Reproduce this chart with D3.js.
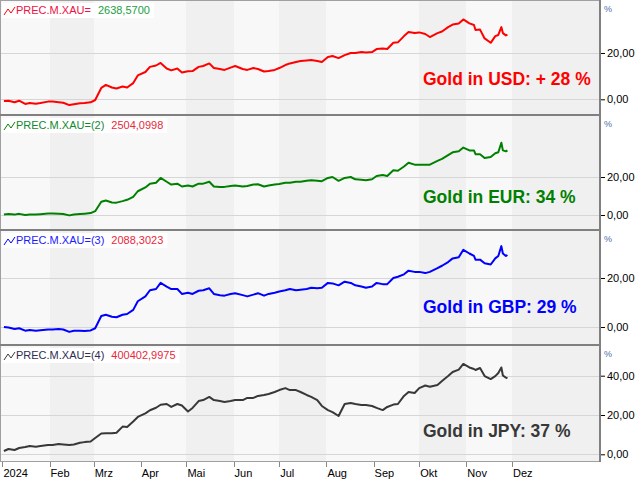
<!DOCTYPE html>
<html><head><meta charset="utf-8">
<script src="https://cdn.jsdelivr.net/npm/d3@7"></script>
<style>body{margin:0;background:#fff}svg{display:block}text{font-family:"Liberation Sans",Arial,sans-serif}</style>
</head><body><svg id="c" width="640" height="480"></svg>
<script>
const dates = ["2024-01-02","2024-01-05","2024-01-09","2024-01-12","2024-01-16","2024-01-19","2024-01-23","2024-01-26","2024-01-31",
"2024-02-03","2024-02-07","2024-02-10","2024-02-14","2024-02-17","2024-02-21","2024-02-24","2024-02-28",
"2024-03-02","2024-03-06","2024-03-09","2024-03-13","2024-03-16","2024-03-20","2024-03-23","2024-03-27","2024-03-30",
"2024-04-04","2024-04-07","2024-04-11","2024-04-14","2024-04-18","2024-04-21","2024-04-25","2024-04-28","2024-05-02",
"2024-05-05","2024-05-09","2024-05-12","2024-05-16","2024-05-19","2024-05-23","2024-05-26","2024-05-30","2024-06-02",
"2024-06-07","2024-06-10","2024-06-14","2024-06-17","2024-06-21","2024-06-24","2024-06-28","2024-07-01",
"2024-07-05","2024-07-08","2024-07-12","2024-07-15","2024-07-19","2024-07-22","2024-07-26","2024-07-29","2024-08-02",
"2024-08-05","2024-08-09","2024-08-13","2024-08-17","2024-08-20","2024-08-24","2024-08-27","2024-08-31","2024-09-03",
"2024-09-07","2024-09-10","2024-09-14","2024-09-17","2024-09-21","2024-09-24","2024-09-28","2024-10-01",
"2024-10-05","2024-10-08","2024-10-13","2024-10-16","2024-10-20","2024-10-23","2024-10-27","2024-10-30","2024-11-03",
"2024-11-06","2024-11-07","2024-11-10","2024-11-13","2024-11-17","2024-11-20","2024-11-22","2024-11-24","2024-11-25","2024-11-27","2024-11-28"];

const usd = [-0.7,-0.6,-1.3,-0.6,-2.0,-1.6,-1.9,-1.6,-1.0,
-1.0,-1.3,-1.5,-2.5,-2.1,-1.7,-1.6,-1.3,
-0.3,4.9,6.2,5.1,4.7,5.5,5.1,7.0,10.3,
11.8,14.0,14.6,15.7,13.3,12.5,13.3,11.6,12.1,
12.2,14.0,14.4,15.5,13.5,13.1,12.7,13.7,14.4,
13.1,12.7,13.5,13.1,12.0,12.2,12.7,13.5,
14.8,15.5,16.1,16.5,16.8,17.0,16.5,16.1,18.3,
18.7,17.8,19.1,20.0,20.0,20.4,20.2,20.4,21.7,
21.9,21.7,24.4,24.6,27.3,29.1,28.6,28.9,
28.2,26.9,28.6,29.3,31.2,32.3,32.7,34.5,32.8,
32.1,29.9,30.1,26.3,24.4,27.3,27.8,31.2,28.6,27.6,27.9];

const eur = [0.3,0.5,0.2,0.6,0.0,0.3,0.2,0.4,0.8,
0.8,0.6,0.5,-0.2,0.3,0.5,0.7,1.0,
2.0,7.0,7.6,6.6,6.5,7.3,8.0,9.5,12.5,
14.5,16.5,17.0,19.5,17.5,16.0,16.5,15.0,15.5,
15.0,16.5,16.5,17.5,15.0,14.8,14.8,15.3,15.5,
15.0,15.3,16.0,16.2,15.0,15.5,16.0,16.3,
17.0,17.0,17.5,17.5,18.0,18.3,18.0,17.8,19.5,
20.0,18.0,19.5,20.0,18.8,18.5,18.3,18.8,20.5,
21.0,20.5,23.5,23.3,25.5,27.5,26.5,26.5,
26.5,26.5,28.5,29.5,31.5,33.0,33.5,35.5,34.0,
34.0,32.0,32.0,30.0,30.5,32.5,33.0,38.0,34.0,33.5,34.0];

const gbp = [0.0,-0.2,-0.8,-0.5,-1.5,-1.2,-1.5,-1.3,-1.0,
-1.0,-0.8,-1.0,-2.0,-1.5,-1.5,-1.6,-1.4,
-0.5,4.5,5.0,4.2,4.0,5.0,5.3,7.0,10.5,
12.5,15.0,15.5,18.0,16.5,15.5,15.5,13.5,14.0,
13.5,14.8,15.0,15.8,13.5,13.0,12.8,13.5,13.8,
13.0,12.5,13.2,13.8,12.8,13.5,14.0,14.5,
15.0,15.5,15.0,15.2,15.5,16.0,15.8,16.0,18.0,
17.8,17.0,18.5,18.0,17.0,16.5,16.0,16.5,18.0,
17.5,17.5,20.0,20.5,21.5,23.0,22.5,22.5,
22.0,22.5,24.0,25.0,26.5,28.0,28.5,31.5,30.0,
29.0,27.5,27.5,26.0,25.5,28.0,29.0,33.0,30.0,29.0,29.4];

const jpy = [1.7,2.7,2.2,3.2,3.7,4.2,3.9,4.2,4.7,
4.7,5.2,5.0,4.7,5.0,5.9,6.2,6.5,
8.3,10.6,10.7,10.7,11.0,14.1,13.9,16.7,19.0,
20.8,22.4,23.7,25.2,25.6,24.1,25.6,24.8,21.8,
23.6,27.1,27.6,29.2,27.6,27.1,26.6,27.1,27.6,
27.6,28.7,28.7,29.7,30.2,30.7,31.7,32.7,
33.7,32.7,32.7,31.7,30.2,29.2,27.6,24.6,22.5,
21.5,19.5,25.6,26.1,25.6,25.1,25.1,24.6,23.6,
22.5,24.1,25.3,25.6,29.7,31.7,31.2,33.7,
35.0,34.4,35.3,37.3,39.8,41.9,43.1,46.0,44.2,
43.4,42.9,43.9,39.8,38.3,39.8,41.4,44.2,40.1,39.0,38.7];

const seriesColors = ["#ff0000","#008000","#0000ff","#383838"];
const legendCodes = ["PREC.M.XAU=","PREC.M.XAU=(2)","PREC.M.XAU=(3)","PREC.M.XAU=(4)"];
const legendCodeColors = ["#ee1144","#108a30","#1a1aff","#2e2e50"];
const legendValues = ["2638,5700","2504,0998","2088,3023","400402,9975"];
const legendValueColors = ["#20a040","#e8283c","#e8283c","#e8283c"];
const titles = ["Gold in USD: + 28 %","Gold in EUR: 34 %","Gold in GBP: 29 %","Gold in JPY: 37 %"];
const yTicks = [[0,20],[0,20],[0,20],[0,20,40]];
const monthTicks = ["2024-01-01","2024-02-01","2024-03-01","2024-04-01","2024-05-01","2024-06-01","2024-07-01","2024-08-01","2024-09-01","2024-10-01","2024-11-01","2024-12-01"];
const monthLabels = ["2024","Feb","Mrz","Apr","Mai","Jun","Jul","Aug","Sep","Okt","Nov","Dez"];
const darkBands = [["2024-02-01","2024-03-01"],["2024-05-01","2024-06-01"],["2024-07-01","2024-08-01"],["2024-10-01","2024-11-01"],["2024-12-01","2025-03-01"]];

const series = [usd, eur, gbp, jpy];
const parse = d3.utcParse("%Y-%m-%d");
const fmt = v => d3.format(".2f")(v).replace(".", ",");

const svg = d3.select("#c");
const plotRight = 600;
const x = d3.scaleUtc().domain([Date.UTC(2024,0,1), Date.UTC(2024,11,1)]).range([2.4, 512]);

const layout = [
  {top:1, bottom:114, y0:99.3, y20:53, title:85},
  {top:116, bottom:229, y0:215, y20:177, title:203},
  {top:231, bottom:344, y0:327, y20:278, title:313},
  {top:346, bottom:461, y0:454.3, y20:415, title:437}
];

layout.forEach((L, i) => {
  const g = svg.append("g");
  const y = d3.scaleLinear().domain([0, 20]).range([L.y0, L.y20]);
  const cid = "clip" + i;
  svg.append("clipPath").attr("id", cid).append("rect")
    .attr("x", 1).attr("y", L.top).attr("width", plotRight - 1).attr("height", L.bottom - L.top);
  const pg = g.append("g").attr("clip-path", `url(#${cid})`);
  pg.append("rect").attr("x", 0).attr("y", L.top).attr("width", plotRight).attr("height", L.bottom - L.top).attr("fill", "#f8f8f8");
  pg.selectAll("rect.band").data(darkBands).join("rect").attr("class", "band")
    .attr("x", d => Math.round(x(parse(d[0])))).attr("width", d => Math.min(plotRight, Math.round(x(parse(d[1])))) - Math.round(x(parse(d[0]))))
    .attr("y", L.top).attr("height", L.bottom - L.top).attr("fill", "#f0f0f0");
  pg.selectAll("line.grid").data(yTicks[i]).join("line").attr("class", "grid")
    .attr("x1", 0).attr("x2", plotRight).attr("y1", d => Math.round(y(d)) + 0.5).attr("y2", d => Math.round(y(d)) + 0.5)
    .attr("stroke", "#d6d6d6").attr("stroke-width", 1);
  const line = d3.line().x((d, k) => x(parse(dates[k]))).y(d => y(d));
  pg.append("path").datum(series[i]).attr("d", line).attr("fill", "none")
    .attr("stroke", seriesColors[i]).attr("stroke-width", 2).attr("stroke-linejoin", "round");

  const ax = d3.axisRight(y).tickValues(yTicks[i]).tickFormat(fmt).tickSize(4).tickPadding(2);
  const axg = g.append("g").attr("transform", `translate(${plotRight + 1},0)`).call(ax);
  axg.select(".domain").remove();
  axg.selectAll(".tick line").attr("stroke", "#000");
  axg.selectAll(".tick text").attr("font-size", 11).attr("fill", "#000").attr("font-family", "Liberation Sans, Arial, sans-serif");
  g.append("text").attr("x", 604).attr("y", L.top + 11).attr("font-size", 9).attr("fill", "#4a6ea8").text("%");

  const lg = g.append("g");
  const box = lg.append("rect").attr("x", 2).attr("y", L.top + 2).attr("height", 15).attr("fill", "#fff");
  lg.append("polyline").attr("points", `4,${L.top+14} 8,${L.top+8} 11,${L.top+12} 15,${L.top+6}`)
    .attr("fill", "none").attr("stroke", seriesColors[i]).attr("stroke-width", 1);
  const t1 = lg.append("text").attr("x", 16).attr("y", L.top + 13).attr("font-size", 11)
    .attr("fill", legendCodeColors[i]).text(legendCodes[i]);
  const w1 = t1.node().getComputedTextLength();
  const t2 = lg.append("text").attr("x", 16 + w1 + 7).attr("y", L.top + 13).attr("font-size", 11)
    .attr("fill", legendValueColors[i]).text(legendValues[i]);
  const w2 = t2.node().getComputedTextLength();
  box.attr("width", 16 + w1 + 7 + w2 + 4 - 2);

  g.append("text").attr("x", 423).attr("y", L.title).attr("font-size", 17.5).attr("font-weight", "bold")
    .attr("fill", seriesColors[i]).text(titles[i]);

  g.append("line").attr("x1", 0.5).attr("x2", 0.5).attr("y1", L.top - 1).attr("y2", L.bottom).attr("stroke", "#a0a0a0");
});

svg.append("line").attr("x1", 0).attr("x2", plotRight).attr("y1", 0.5).attr("y2", 0.5).attr("stroke", "#a0a0a0");
[115, 230, 345].forEach(yy => svg.append("line").attr("x1", 0).attr("x2", plotRight).attr("y1", yy).attr("y2", yy).attr("stroke", "#808080").attr("stroke-width", 2));
svg.append("line").attr("x1", 0).attr("x2", plotRight).attr("y1", 461.5).attr("y2", 461.5).attr("stroke", "#a0a0a0");
svg.append("line").attr("x1", plotRight).attr("x2", plotRight).attr("y1", 0).attr("y2", 462).attr("stroke", "#808080").attr("stroke-width", 2);

const bx = svg.append("g");
bx.selectAll("line").data(monthTicks).join("line")
  .attr("x1", d => Math.round(x(parse(d))) + 0.5).attr("x2", d => Math.round(x(parse(d))) + 0.5)
  .attr("y1", 462).attr("y2", 467).attr("stroke", "#888");
bx.selectAll("text").data(monthTicks).join("text")
  .attr("x", d => x(parse(d)) + 1).attr("y", 477).attr("font-size", 11).attr("fill", "#000")
  .text((d, k) => monthLabels[k]);
</script></body></html>
